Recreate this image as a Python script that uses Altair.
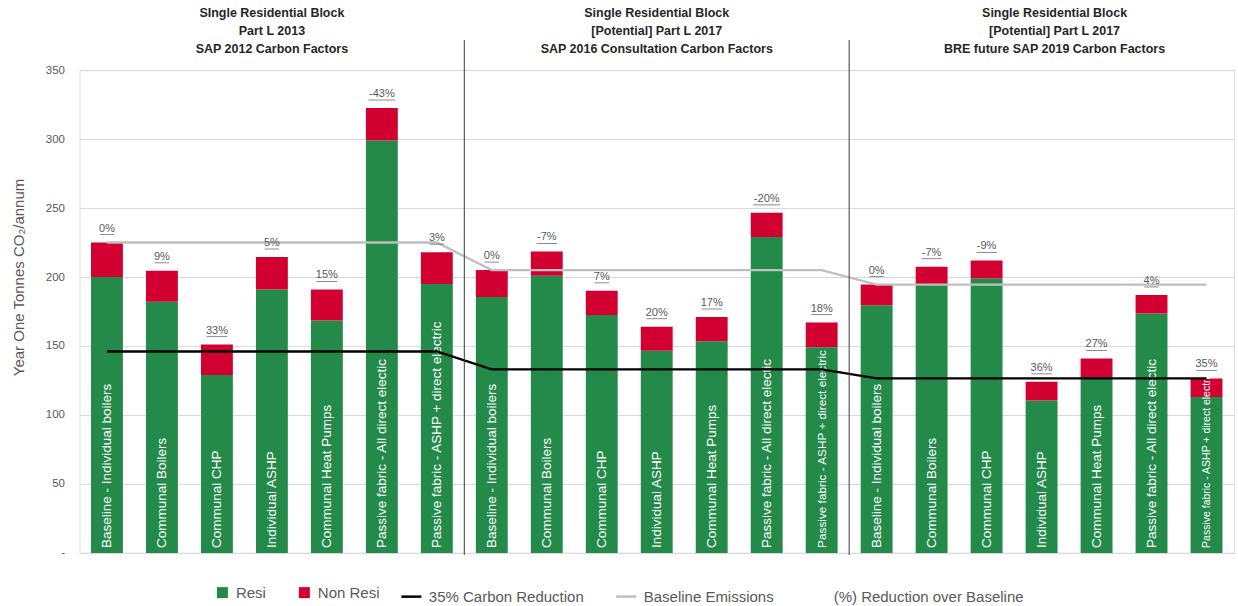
import altair as alt
import pandas as pd

# ---------------- data ----------------
categories = [
    "Baseline - Individual boilers",
    "Communal Boilers",
    "Communal CHP",
    "Individual ASHP",
    "Communal Heat Pumps",
    "Passive fabric - All direct electic",
    "Passive fabric - ASHP + direct electric",
]
group_titles = [
    "SIngle Residential Block\nPart L 2013\nSAP 2012 Carbon Factors",
    "Single Residential Block\n[Potential] Part L 2017\nSAP 2016 Consultation  Carbon Factors",
    "Single Residential Block\n[Potential] Part L 2017\nBRE future SAP 2019 Carbon Factors",
]
resi = [
    [200, 182, 129, 191, 168.5, 299, 195],
    [185.5, 201, 172.5, 146.5, 153.5, 229, 149],
    [179.5, 194.5, 199, 110.5, 127.5, 173.5, 113],
]
non_resi = [
    [25, 22.5, 22, 23.5, 22.5, 23.5, 23],
    [19.5, 17.5, 17.5, 17.5, 17.5, 17.5, 18],
    [15, 13, 13, 13.5, 13.5, 13.5, 13.5],
]
pct_labels = [
    ["0%", "9%", "33%", "5%", "15%", "-43%", "3%"],
    ["0%", "-7%", "7%", "20%", "17%", "-20%", "18%"],
    ["0%", "-7%", "-9%", "36%", "27%", "4%", "35%"],
]
# in-bar label font sizes (Excel shrank the longest labels to fit)
label_sizes = [
    [13.5] * 7,
    [13.5] * 6 + [11.8],
    [13.5] * 6 + [10.5],
]
carbon_35 = [146, 133, 126.5]
baseline_em = [225, 205, 194.5]

GREEN = "#238A4A"
RED = "#D10031"
GREY_TXT = "#595959"
FONT = "Liberation Sans"

# ---------------- tables ----------------
ids, bar_rows, pt_rows, line_rows = [], [], [], []
for g in range(3):
    for i, cat in enumerate(categories):
        bid = f"{g + 1}|{i + 1}|{cat}"
        ids.append(bid)
        r, n = resi[g][i], non_resi[g][i]
        bar_rows.append({"id": bid, "series": "Resi", "value": r, "ord": 0})
        bar_rows.append({"id": bid, "series": "Non Resi", "value": n, "ord": 1})
        lab = pct_labels[g][i]
        pt_rows.append({
            "id": bid, "cat": cat, "total": r + n, "pct": lab,
            "uw": 6.2 * len(lab) + 2,
            "fs": label_sizes[g][i],
        })
        line_rows.append({"id": bid, "series": "35% Carbon Reduction", "value": carbon_35[g]})
        line_rows.append({"id": bid, "series": "Baseline Emissions", "value": baseline_em[g]})

bars_df = pd.DataFrame(bar_rows)
pts_df = pd.DataFrame(pt_rows)
lines_df = pd.DataFrame(line_rows)
sep_df = pd.DataFrame({"id": [ids[6], ids[13]]})
title_df = pd.DataFrame({"id": [ids[3], ids[10], ids[17]], "title": group_titles})

x_enc = alt.X("id:N", sort=ids, axis=alt.Axis(labels=False, ticks=False, title=None,
                                               domainColor="#d9d9d9", grid=False),
              scale=alt.Scale(paddingInner=0.42, paddingOuter=0.21))
y_scale = alt.Scale(domain=[0, 350], nice=False)

bars = alt.Chart(bars_df).mark_bar().encode(
    x=x_enc,
    y=alt.Y("value:Q", stack="zero", scale=y_scale,
            axis=alt.Axis(values=list(range(0, 351, 50)),
                          labelExpr="datum.value == 0 ? '-' : datum.label",
                          title="Year One Tonnes CO₂/annum",
                          titleFontSize=15, titleFontWeight="normal", titleColor=GREY_TXT,
                          titleX=-61, titleY=207, titleAngle=270,
                          titleAlign="center", titleBaseline="middle",
                          labelFontSize=11.5, labelColor=GREY_TXT, labelPadding=15,
                          domain=False, ticks=False, gridColor="#d9d9d9", gridWidth=1)),
    color=alt.Color("series:N",
                    scale=alt.Scale(domain=["Resi", "Non Resi"], range=[GREEN, RED]),
                    legend=alt.Legend(orient="none", legendX=135.5, legendY=515,
                                      direction="horizontal", title=None,
                                      symbolType="square", symbolSize=121,
                                      symbolStrokeWidth=0, labelFontSize=15,
                                      labelColor=GREY_TXT, labelFont=FONT, labelLimit=400,
                                      labelOffset=6, columnPadding=30, padding=0)),
    order=alt.Order("ord:Q"),
)

bar_text = alt.Chart(pts_df).mark_text(
    angle=270, align="left", baseline="middle", dx=5, color="white", font=FONT,
).encode(
    x=alt.X("id:N", sort=ids), y=alt.value(483), text="cat:N",
    size=alt.Size("fs:Q", scale=None, legend=None),
)

lines = alt.Chart(lines_df).mark_line(strokeWidth=2.3).encode(
    x=alt.X("id:N", sort=ids),
    y=alt.Y("value:Q", scale=y_scale),
    detail="series:N",
    stroke=alt.Stroke("series:N",
                      scale=alt.Scale(domain=["35% Carbon Reduction", "Baseline Emissions",
                                              "(%) Reduction over Baseline"],
                                      range=["#000000", "#bfbfbf", "rgba(0,0,0,0)"]),
                      legend=alt.Legend(orient="none", legendX=320.5, legendY=515,
                                        direction="horizontal", title=None,
                                        symbolType="stroke", symbolSize=400,
                                        symbolStrokeWidth=2.5, labelFontSize=15,
                                        labelColor=GREY_TXT, labelFont=FONT, labelLimit=400,
                                        labelOffset=6, columnPadding=26, padding=0)),
)

pct_text = alt.Chart(pts_df).mark_text(
    baseline="middle", dy=-14, fontSize=11, color=GREY_TXT, font=FONT,
).encode(x=alt.X("id:N", sort=ids), y=alt.Y("total:Q", scale=y_scale), text="pct:N")

pct_under = alt.Chart(pts_df).mark_tick(thickness=1, color=GREY_TXT, yOffset=-8).encode(
    x=alt.X("id:N", sort=ids), y=alt.Y("total:Q", scale=y_scale),
    size=alt.Size("uw:Q", scale=None, legend=None),
)

seps = alt.Chart(sep_df).mark_rule(color="#3a3a3a", strokeWidth=1, xOffset=27.5).encode(
    x=alt.X("id:N", sort=ids), y=alt.value(-30), y2=alt.value(485),
)

title_layers = []
for k, dxv in enumerate([0, 0, 13]):
    title_layers.append(
        alt.Chart(title_df.iloc[[k]]).mark_text(
            lineBreak="\n", baseline="middle", align="center", fontSize=12.5,
            fontWeight="bold", color="#262626", lineHeight=18, dx=dxv, font=FONT,
        ).encode(x=alt.X("id:N", sort=ids), y=alt.value(-57), text="title:N")
    )

chart = alt.layer(
    bars, bar_text, lines, pct_under, pct_text, seps, *title_layers
).resolve_scale(x="shared").properties(
    width=1155, height=483,
    autosize=alt.AutoSizeParams(type="none"),
    padding={"left": 79.5, "top": 70, "right": 4, "bottom": 53},
).configure_view(stroke=None).configure(font=FONT)

chart.save("out.html", embed_options={"renderer": "svg", "actions": False})
